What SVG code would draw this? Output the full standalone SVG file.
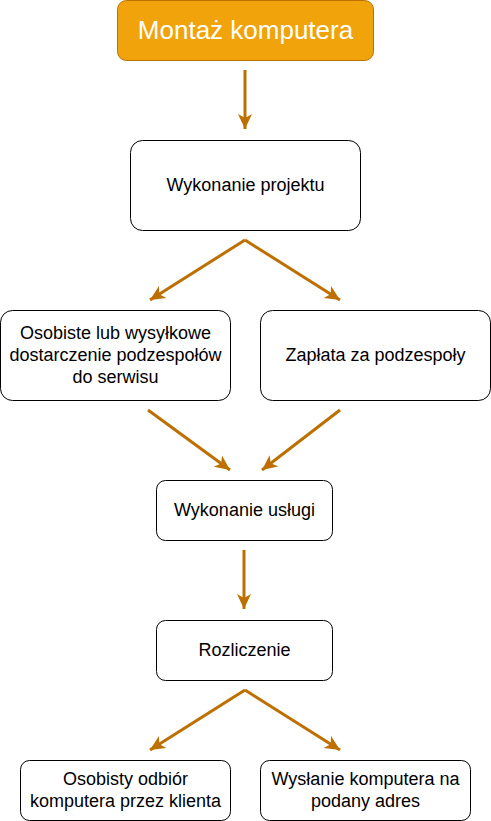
<svg xmlns="http://www.w3.org/2000/svg" width="491" height="821" viewBox="0 0 491 821">
<style>
.box{fill:#ffffff;stroke:#000000;stroke-width:1}
.t{font-family:"Liberation Sans",Arial,sans-serif;font-size:18px;fill:#000000;text-anchor:middle;dominant-baseline:central}
.title{font-family:"Liberation Sans",Arial,sans-serif;font-size:26px;fill:#ffffff;text-anchor:middle;dominant-baseline:central}
.e{fill:none;stroke:#BD7000;stroke-width:3;marker-end:url(#arr)}
</style>
<defs>
<marker id="arr" markerUnits="userSpaceOnUse" viewBox="0 0 16 16" markerWidth="16" markerHeight="16" refX="15" refY="8" orient="auto">
<path d="M0,1 L15,8 L0,15 L4,8 z" fill="#BD7000"/>
</marker>
</defs>
<g id="connectors">
<path class="e" d="M245,70 L245,129"/>
<path class="e" d="M245,240 L150,300"/>
<path class="e" d="M245,240 L340,300"/>
<path class="e" d="M148,410 L230,470"/>
<path class="e" d="M340,410 L262,470"/>
<path class="e" d="M244,550 L244,609"/>
<path class="e" d="M245,690 L150,750"/>
<path class="e" d="M245,690 L340,750"/>
</g>
<g id="n1"><rect x="117.5" y="0.5" width="256" height="60" rx="9" fill="#F0A30A" stroke="#BD7000"/><text class="title" x="245.5" y="30">Montaż komputera</text></g>
<g id="n2"><rect class="box" x="130.5" y="140.5" width="230" height="90" rx="12"/><text class="t" x="245.5" y="185">Wykonanie projektu</text></g>
<g id="n3"><rect class="box" x="0.5" y="310.5" width="230" height="90" rx="12"/><text class="t" x="115.5" y="333">Osobiste lub wysyłkowe</text><text class="t" x="115.5" y="355">dostarczenie podzespołów</text><text class="t" x="115.5" y="377">do serwisu</text></g>
<g id="n4"><rect class="box" x="260.5" y="310.5" width="230" height="90" rx="12"/><text class="t" x="375.5" y="355">Zapłata za podzespoły</text></g>
<g id="n5"><rect class="box" x="156.5" y="480.5" width="176" height="60" rx="9"/><text class="t" x="244.5" y="510">Wykonanie usługi</text></g>
<g id="n6"><rect class="box" x="156.5" y="620.5" width="176" height="60" rx="9"/><text class="t" x="244.5" y="650">Rozliczenie</text></g>
<g id="n7"><rect class="box" x="20.5" y="760.5" width="210" height="60" rx="9"/><text class="t" x="125.5" y="779">Osobisty odbiór</text><text class="t" x="125.5" y="801">komputera przez klienta</text></g>
<g id="n8"><rect class="box" x="260.5" y="760.5" width="210" height="60" rx="9"/><text class="t" x="365.5" y="779">Wysłanie komputera na</text><text class="t" x="365.5" y="801">podany adres</text></g>
</svg>
